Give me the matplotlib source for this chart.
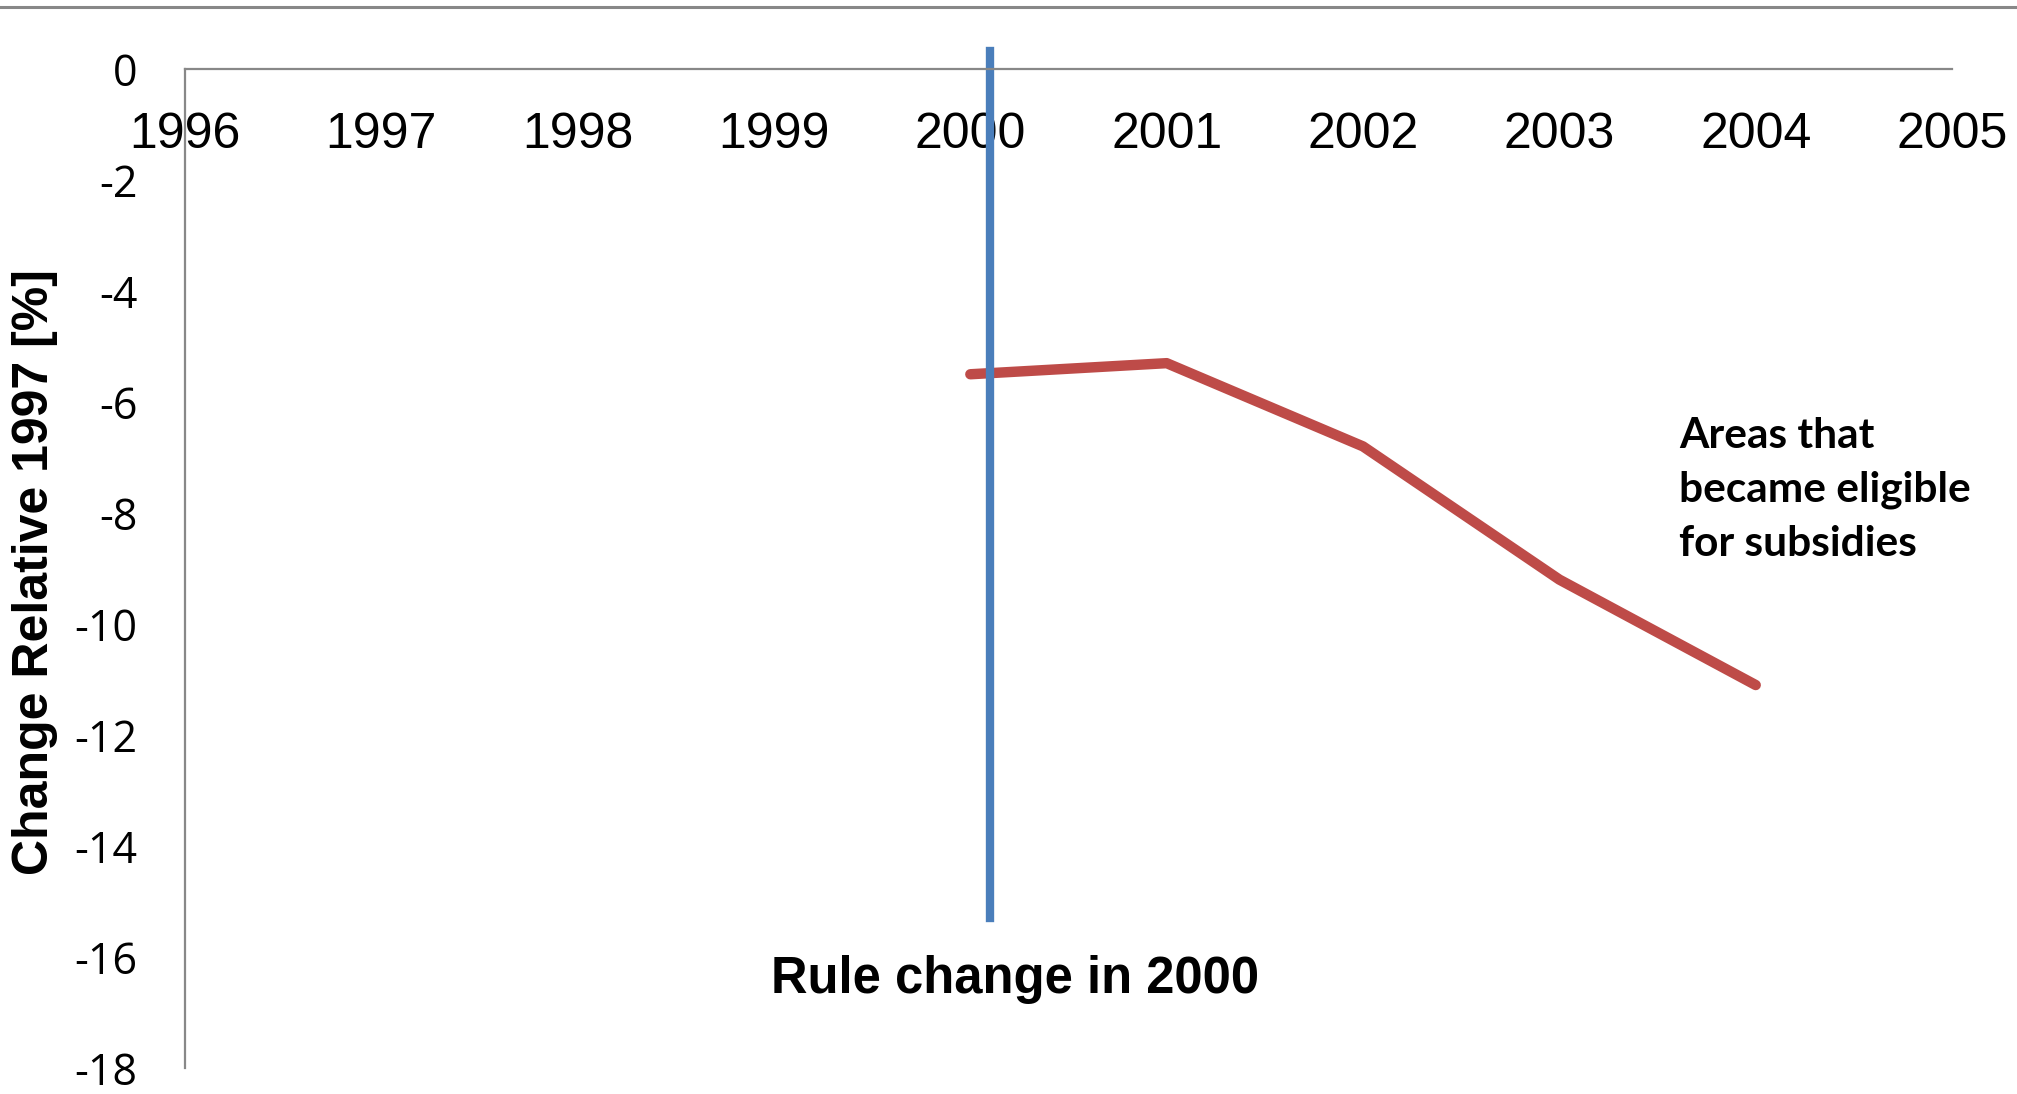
import matplotlib.pyplot as plt
from matplotlib.lines import Line2D

plt.rcParams["axes.unicode_minus"] = False

years = [2000, 2001, 2002, 2003, 2004]
change = [-5.5, -5.3, -6.8, -9.2, -11.1]
xticks = list(range(1996, 2006))
yticks = list(range(0, -19, -2))
rule_year = 2000.1

fig = plt.figure(figsize=(20.17, 10.94), dpi=100)
ax = fig.add_axes([0.0917, 0.0238, 0.8761, 0.9131])

ax.plot(years, change, color="#be4b48", lw=7.5, solid_capstyle="round", solid_joinstyle="round")
ax.plot([rule_year, rule_year], [0.32, -15.3], color="#4a7ebb", lw=6, clip_on=False)

ax.set_xlim(1996, 2005)
ax.set_ylim(-18, 0)
ax.set_xticks(xticks)
ax.set_yticks(yticks)

for s in ["top", "right"]:
    ax.spines[s].set_visible(False)
ax.spines["bottom"].set_position(("data", 0))
for s in ["bottom", "left"]:
    ax.spines[s].set_color("#888888")
    ax.spines[s].set_linewidth(1.6)

ax.tick_params(axis="x", length=0, pad=31, labelsize=36)
ax.tick_params(axis="y", length=0, pad=34)
for lab in ax.get_xticklabels():
    lab.set_fontfamily("Liberation Sans")
for lab in ax.get_yticklabels():
    lab.set_fontfamily("Open Sans")
    lab.set_fontsize(31)

fig.text(0.0174, 0.477, "Change Relative 1997 [%]", rotation=90, ha="center", va="center",
         fontsize=36, fontweight="bold", family="Liberation Sans")

ax.text(2000.23, -16.4, "Rule change in 2000", ha="center", va="center",
        fontsize=36.5, fontweight="bold", family="Liberation Sans")
ax.text(2003.61, -7.59, "Areas that\nbecame eligible\nfor subsidies", ha="left", va="center",
        fontsize=30.5, fontweight="bold", family="Lato", linespacing=1.5)

fig.add_artist(Line2D([0, 1], [1 - 7 / 1094, 1 - 7 / 1094], color="#888888", lw=2.2,
                      transform=fig.transFigure))

fig.savefig("out.png", dpi=100)
